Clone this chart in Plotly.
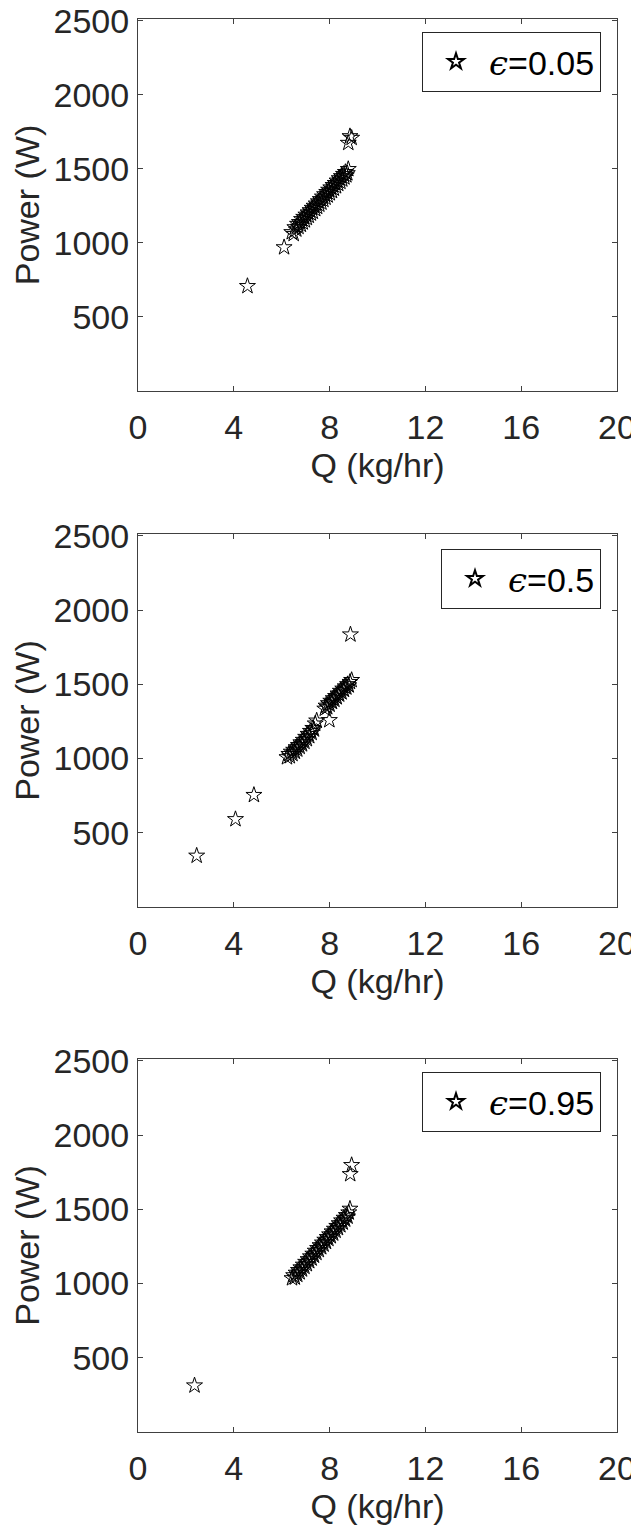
import plotly.graph_objects as go
from plotly.subplots import make_subplots

# ---------------- data ----------------
labels = ["<span style=\"font-family:'DejaVu Serif'\"><i>ϵ</i></span>=0.05",
          "<span style=\"font-family:'DejaVu Serif'\"><i>ϵ</i></span>=0.5",
          "<span style=\"font-family:'DejaVu Serif'\"><i>ϵ</i></span>=0.95"]

q1 = [4.57, 6.10, 8.78, 8.85, 8.92,
      6.42, 6.50, 6.55, 6.61, 6.66, 6.70, 6.74, 6.80, 6.83, 6.88, 6.92, 6.97, 7.01, 7.05,
      7.10, 7.13, 7.18, 7.22, 7.27, 7.30, 7.35, 7.40, 7.44, 7.48, 7.53, 7.57, 7.61, 7.66,
      7.70, 7.74, 7.79, 7.83, 7.88, 7.92, 7.96, 8.01, 8.05, 8.10, 8.14, 8.18, 8.23, 8.27,
      8.31, 8.36, 8.40, 8.45, 8.49, 8.53, 8.58, 8.62, 8.66, 8.70, 8.74, 8.78]
p1 = [708, 970, 1675, 1720, 1709,
      1072, 1060, 1105, 1090, 1128, 1108, 1140, 1122, 1160, 1138, 1175, 1152, 1190, 1168,
      1205, 1183, 1220, 1198, 1236, 1210, 1250, 1228, 1265, 1243, 1280, 1258, 1295, 1272,
      1312, 1290, 1328, 1305, 1343, 1320, 1358, 1335, 1374, 1350, 1390, 1366, 1404, 1382,
      1420, 1398, 1436, 1412, 1450, 1428, 1465, 1442, 1478, 1456, 1470, 1498]

q2 = [2.45, 4.07, 4.84, 7.99, 8.87,
      6.22, 6.30, 6.34, 6.40, 6.45, 6.50, 6.55, 6.60, 6.65, 6.70, 6.75, 6.80, 6.85, 6.90,
      6.95, 7.00, 7.05, 7.10, 7.15, 7.20, 7.25, 7.30, 7.35, 7.40, 7.46,
      7.80, 7.85, 7.90, 7.95, 8.00, 8.05, 8.10, 8.15, 8.20, 8.25, 8.30, 8.35, 8.40, 8.45,
      8.50, 8.55, 8.60, 8.65, 8.70, 8.75, 8.80, 8.85, 8.92]
p2 = [345, 591, 754, 1258, 1835,
      1008, 1030, 1015, 1045, 1030, 1058, 1045, 1075, 1060, 1090, 1078, 1108, 1095, 1125,
      1112, 1145, 1130, 1165, 1150, 1185, 1172, 1205, 1195, 1235, 1255,
      1335, 1355, 1345, 1372, 1362, 1388, 1380, 1405, 1395, 1420, 1412, 1437, 1430, 1455,
      1445, 1470, 1462, 1485, 1478, 1500, 1492, 1515, 1528]

q3 = [2.36, 8.92, 8.86,
      6.43, 6.50, 6.55, 6.60, 6.65, 6.70, 6.75, 6.80, 6.85, 6.90, 6.95, 7.00, 7.05, 7.10,
      7.15, 7.20, 7.25, 7.30, 7.35, 7.40, 7.45, 7.50, 7.55, 7.60, 7.65, 7.70, 7.75, 7.80,
      7.85, 7.90, 7.95, 8.00, 8.05, 8.10, 8.15, 8.20, 8.25, 8.30, 8.35, 8.40, 8.45, 8.50,
      8.55, 8.60, 8.65, 8.70, 8.75, 8.80, 8.85]
p3 = [313, 1797, 1736,
      1035, 1055, 1040, 1072, 1058, 1090, 1075, 1108, 1094, 1126, 1112, 1145, 1130, 1163,
      1150, 1182, 1168, 1200, 1187, 1220, 1206, 1238, 1225, 1257, 1244, 1275, 1262, 1294,
      1280, 1312, 1300, 1330, 1318, 1350, 1336, 1368, 1355, 1387, 1373, 1405, 1392, 1424,
      1410, 1442, 1430, 1460, 1450, 1478, 1503]

x_ticks = [0, 4, 8, 12, 16, 20]
y_ticks = [500, 1000, 1500, 2000, 2500]
x_title = "Q (kg/hr)"
y_title = "Power (W)"

# ---------------- figure ----------------
# page body has an 8px margin: the figure starts at (8, 8) in the window
OFF = 8
W, H = 639 - OFF, 1533 - 2 * OFF
ML, MR, MT = 138 - OFF, 22, 19 - OFF
MB = H - (1432 - OFF)
PH = H - MT - MB

def fy(px):  # px: window pixel row
    return 1 - (px - OFF - MT) / PH

panels = [(19, 391), (534, 907), (1059, 1432)]
legend_tops = [32, 549, 1072]
legend_right = (601 - 138) / (W - ML - MR)

fig = make_subplots(rows=3, cols=1)
series = [(q1, p1), (q2, p2), (q3, p3)]
TXT = "#262626"
AX = "#404040"
FONT = "Liberation Sans, Arial, sans-serif"

for i, ((qx, py), lab) in enumerate(zip(series, labels)):
    lname = "legend" if i == 0 else f"legend{i+1}"
    fig.add_trace(go.Scatter(
        x=qx, y=py, mode="markers", name=lab, legend=lname,
        marker=dict(symbol="star-open", size=12, color="black", line=dict(width=1)),
        showlegend=True,
    ), row=i + 1, col=1)

layout = dict(
    width=W, height=H,
    margin=dict(l=ML, r=MR, t=MT, b=MB),
    paper_bgcolor="white", plot_bgcolor="white",
    font=dict(family=FONT, size=34, color=TXT),
)
for i, (top, bot) in enumerate(panels):
    sx = "" if i == 0 else str(i + 1)
    layout["xaxis" + sx] = dict(
        domain=[0, 1], range=[0, 20], tickvals=x_ticks,
        showline=True, mirror="ticks", linecolor=AX, linewidth=1,
        ticks="inside", ticklen=5, tickcolor=AX, showgrid=False, zeroline=False,
        ticklabelstandoff=6, automargin=False, ticklabeloverflow="allow",
        title=dict(text=x_title, standoff=6, font=dict(size=34, color=TXT)),
        tickfont=dict(size=34, color=TXT),
    )
    layout["yaxis" + sx] = dict(
        domain=[fy(bot), fy(top)], range=[0, 2512], tickvals=y_ticks,
        showline=True, mirror="ticks", linecolor=AX, linewidth=1,
        ticks="inside", ticklen=5, tickcolor=AX, showgrid=False, zeroline=False,
        ticklabelstandoff=1, automargin=False, ticklabeloverflow="allow",
        title=dict(text=y_title, standoff=10, font=dict(size=34, color=TXT)),
        tickfont=dict(size=34, color=TXT),
    )
    lname = "legend" if i == 0 else f"legend{i+1}"
    layout[lname] = dict(
        x=legend_right, y=fy(legend_tops[i]), xanchor="right", yanchor="top",
        bgcolor="white", bordercolor="#262626", borderwidth=1,
        font=dict(family=FONT, size=34, color="black"),
        itemsizing="constant", itemwidth=56,
    )

fig.update_layout(**layout)
fig.write_html("out.html")
